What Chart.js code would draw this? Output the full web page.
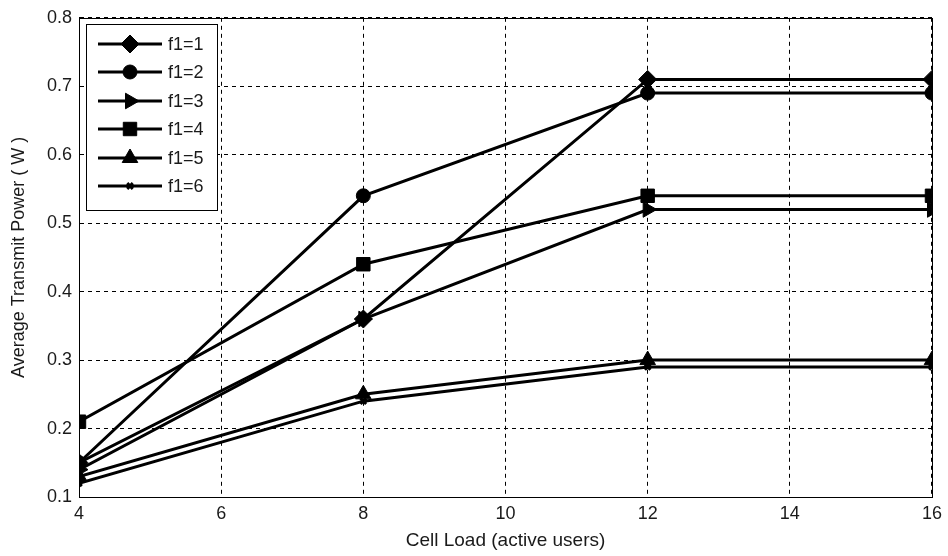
<!DOCTYPE html>
<html>
<head>
<meta charset="utf-8">
<title>Average Transmit Power vs Cell Load</title>
<script src="https://cdn.jsdelivr.net/npm/chart.js@4/dist/chart.umd.min.js"></script>
<style>
    html, body { margin: 0; padding: 0; background: #fff; }
    #chart { display: block; }
</style>
</head>
<body>
<canvas id="chart" width="948" height="556"></canvas>
<script>
// Данные: нагрузка соты и средняя мощность передачи для каждого f1
const cellLoad = [4, 8, 12, 16];
const seriesNames = ['f1=1', 'f1=2', 'f1=3', 'f1=4', 'f1=5', 'f1=6'];
const powerF1 = [0.15, 0.36, 0.71, 0.71];
const powerF2 = [0.15, 0.54, 0.69, 0.69];
const powerF3 = [0.14, 0.36, 0.52, 0.52];
const powerF4 = [0.21, 0.44, 0.54, 0.54];
const powerF5 = [0.13, 0.25, 0.30, 0.30];
const powerF6 = [0.12, 0.24, 0.29, 0.29];
const xTicks = [4, 6, 8, 10, 12, 14, 16];
const yTicks = [0.1, 0.2, 0.3, 0.4, 0.5, 0.6, 0.7, 0.8];

const allSeries = [powerF1, powerF2, powerF3, powerF4, powerF5, powerF6];

// Маркеры в стиле MATLAB
const markers = [
    { style: 'rectRot', radius: 9, rotation: 0 },
    { style: 'circle', radius: 7, rotation: 0 },
    { style: 'triangle', radius: 9, rotation: 90 },
    { style: 'rect', radius: 9.5, rotation: 0 },
    { style: 'triangle', radius: 9, rotation: 0 },
    { style: 'crossRot', radius: 4, rotation: 0 }
];

const TEXT_COLOR = '#1a1a1a';
Chart.defaults.font.family = '"Liberation Sans", Arial, sans-serif';
Chart.defaults.color = TEXT_COLOR;

const datasets = allSeries.map((values, i) => ({
    label: seriesNames[i],
    data: values.map((v, j) => ({ x: cellLoad[j], y: v })),
    borderColor: '#000',
    backgroundColor: '#000',
    borderWidth: 3,
    pointStyle: markers[i].style,
    pointRadius: markers[i].radius,
    pointRotation: markers[i].rotation,
    pointBorderWidth: markers[i].style === 'crossRot' ? 3 : 1,
    pointBackgroundColor: '#000',
    pointBorderColor: '#000',
    tension: 0,
    fill: false
}));

// Рамка вокруг области графика
const frameBox = {
    id: 'frameBox',
    beforeDatasetsDraw(chart) {
        const { ctx, chartArea: a } = chart;
        ctx.save();
        ctx.strokeStyle = '#000';
        ctx.lineWidth = 1;
        ctx.strokeRect(Math.round(a.left) + 0.5, Math.round(a.top) + 0.5,
            Math.round(a.right - a.left), Math.round(a.bottom - a.top));
        ctx.restore();
    }
};

// Легенда с линией и маркером, как в MATLAB
const lineLegend = {
    id: 'lineLegend',
    afterDraw(chart) {
        const ctx = chart.ctx;
        const box = { x: 86, y: 24, w: 131, h: 186 };
        const rowTop = 44;
        const rowStep = 28.4;
        ctx.save();
        ctx.fillStyle = '#fff';
        ctx.fillRect(box.x, box.y, box.w, box.h);
        ctx.strokeStyle = '#000';
        ctx.lineWidth = 1;
        ctx.strokeRect(box.x + 0.5, box.y + 0.5, box.w, box.h);

        chart.data.datasets.forEach((ds, i) => {
            const y = Math.round(rowTop + i * rowStep);
            ctx.strokeStyle = '#000';
            ctx.lineWidth = 3;
            ctx.beginPath();
            ctx.moveTo(98, y);
            ctx.lineTo(162, y);
            ctx.stroke();

            ctx.fillStyle = '#000';
            ctx.strokeStyle = '#000';
            ctx.lineWidth = ds.pointBorderWidth;
            Chart.helpers.drawPoint(ctx, {
                pointStyle: ds.pointStyle,
                radius: ds.pointRadius,
                rotation: ds.pointRotation,
                borderWidth: ds.pointBorderWidth
            }, 130, y);

            ctx.fillStyle = TEXT_COLOR;
            ctx.font = '18px "Liberation Sans", Arial, sans-serif';
            ctx.textBaseline = 'middle';
            ctx.textAlign = 'left';
            ctx.fillText(ds.label, 168, y + 1);
        });
        ctx.restore();
    }
};

new Chart(document.getElementById('chart').getContext('2d'), {
    type: 'line',
    data: { datasets: datasets },
    options: {
        responsive: false,
        animation: false,
        events: [],
        layout: { padding: { left: 0, top: 16, right: 11, bottom: 0 } },
        plugins: {
            legend: { display: false },
            tooltip: { enabled: false }
        },
        scales: {
            x: {
                type: 'linear',
                min: 4,
                max: 16,
                afterFit(scale) { scale.height = 59; },
                afterBuildTicks(scale) { scale.ticks = xTicks.map(v => ({ value: v })); },
                ticks: {
                    padding: 6,
                    font: { size: 18 },
                    color: TEXT_COLOR,
                    maxRotation: 0,
                    callback: v => String(v)
                },
                grid: {
                    color: '#000',
                    lineWidth: 1,
                    drawTicks: false
                },
                border: { display: true, color: '#000', width: 1, dash: [4, 4] },
                title: {
                    display: true,
                    text: 'Cell Load (active users)',
                    font: { size: 19 },
                    color: TEXT_COLOR,
                    padding: { top: 0, bottom: 4 }
                }
            },
            y: {
                type: 'linear',
                min: 0.1,
                max: 0.8,
                afterFit(scale) { scale.width = 79; },
                afterBuildTicks(scale) { scale.ticks = yTicks.map(v => ({ value: v })); },
                ticks: {
                    padding: 7,
                    font: { size: 18 },
                    color: TEXT_COLOR,
                    callback: v => v.toFixed(1)
                },
                grid: {
                    color: '#000',
                    lineWidth: 1,
                    drawTicks: false
                },
                border: { display: true, color: '#000', width: 1, dash: [4, 4] },
                title: {
                    display: true,
                    text: 'Average Transmit Power ( W )',
                    font: { size: 18 },
                    color: TEXT_COLOR,
                    padding: { top: 8, bottom: 0 }
                }
            }
        }
    },
    plugins: [frameBox, lineLegend]
});
</script>
</body>
</html>
